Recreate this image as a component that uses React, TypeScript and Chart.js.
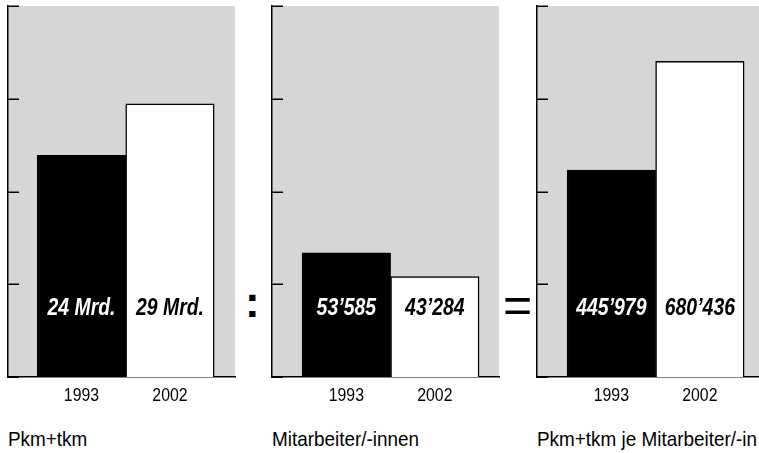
import React, { useEffect, useRef } from 'react';
import { Chart, registerables } from 'chart.js';

Chart.register(...registerables);

// ---- data ----
const years = ['1993', '2002'];
const panelTitles = ['Pkm+tkm', 'Mitarbeiter/-innen', 'Pkm+tkm je Mitarbeiter/-in'];
const pkmTkmValues = [23.9, 29.45]; // Mrd.
const pkmTkmLabels = ['24 Mrd.', '29 Mrd.'];
const staffValues = [53585, 43284];
const staffLabels = ['53’585', '43’284'];
const perStaffValues = [445979, 680436];
const perStaffLabels = ['445’979', '680’436'];
const yMaxes = [40, 160000, 800000];
const yTickSteps = [10, 40000, 200000];
const operators = [':', '='];

const SANS = "'Liberation Sans', Arial, sans-serif";
const GRAY = '#d6d6d6';

const panelValues = [pkmTkmValues, staffValues, perStaffValues];
const panelLabels = [pkmTkmLabels, staffLabels, perStaffLabels];

// layout (positions only)
const panelLayout = [
  { left: 0, width: 245, padL: 8, padR: 10, xMin: -0.83, xMax: 1.735 },
  { left: 262, width: 247, padL: 10, padR: 10, xMin: -0.84, xMax: 1.725 },
  { left: 527, width: 232, padL: 10, padR: 0, xMin: -0.84, xMax: 1.668 },
];

const bgPlugin = {
  id: 'panelBg',
  beforeDraw(chart: any) {
    const { ctx, chartArea } = chart;
    ctx.save();
    ctx.fillStyle = GRAY;
    ctx.fillRect(chartArea.left, chartArea.top, chartArea.right - chartArea.left, chartArea.bottom - chartArea.top);
    ctx.restore();
  },
};

const axisDecor = {
  id: 'axisDecor',
  afterDraw(chart: any) {
    const y = chart.scales.y;
    const x = chart.scales.x;
    const { left, bottom } = chart.chartArea;
    const ctx = chart.ctx;
    ctx.save();
    // inward tick marks on the value axis
    ctx.strokeStyle = '#000';
    ctx.lineWidth = 1.5;
    y.ticks.forEach((t: any) => {
      const py = Math.round(y.getPixelForValue(t.value)) + 0.25;
      ctx.beginPath();
      ctx.moveTo(left, py);
      ctx.lineTo(left + 11, py);
      ctx.stroke();
    });
    // condensed category labels
    ctx.fillStyle = '#000';
    ctx.font = `18px ${SANS}`;
    ctx.textAlign = 'center';
    ctx.textBaseline = 'alphabetic';
    x.ticks.forEach((t: any) => {
      const px = x.getPixelForValue(t.value);
      ctx.save();
      ctx.translate(px, bottom + 24);
      ctx.scale(0.88, 1);
      ctx.fillText(years[t.value], 0, 0);
      ctx.restore();
    });
    ctx.restore();
  },
};

const barText = {
  id: 'barText',
  afterDatasetsDraw(chart: any, _args: any, opts: any) {
    const ctx = chart.ctx;
    const meta = chart.getDatasetMeta(0);
    ctx.save();
    ctx.font = `italic bold 23px ${SANS}`;
    ctx.textAlign = 'center';
    ctx.textBaseline = 'alphabetic';
    meta.data.forEach((el: any, i: number) => {
      ctx.save();
      ctx.translate(el.x, chart.chartArea.bottom - 62);
      ctx.scale(0.845, 1);
      ctx.fillStyle = i === 0 ? '#fff' : '#000';
      ctx.fillText(opts.labels[i], 0, 0);
      ctx.restore();
    });
    ctx.restore();
  },
};

function Panel({ idx }: { idx: number }) {
  const ref = useRef<HTMLCanvasElement>(null);
  useEffect(() => {
    const L = panelLayout[idx];
    const values = panelValues[idx];
    const chart = new Chart(ref.current!, {
      type: 'bar',
      data: {
        datasets: [
          {
            data: values.map((v, i) => ({ x: i, y: v })),
            backgroundColor: ['#000000', '#ffffff'],
            borderColor: '#000000',
            borderWidth: 1.5,
            borderSkipped: 'start',
            barPercentage: 1,
            categoryPercentage: 1,
          },
        ],
      },
      options: {
        responsive: false,
        animation: false,
        layout: { padding: { left: L.padL, right: L.padR, top: 6, bottom: 0 } },
        plugins: {
          legend: { display: false },
          tooltip: { enabled: false },
          barText: { labels: panelLabels[idx] },
        } as any,
        scales: {
          x: {
            type: 'linear',
            min: L.xMin,
            max: L.xMax,
            offset: false,
            bounds: 'data',
            afterBuildTicks: (s: any) => {
              s.ticks = years.map((_, i) => ({ value: i }));
            },
            afterFit: (s: any) => {
              s.height = 33;
            },
            ticks: { display: false },
            grid: { display: false, offset: false },
            border: { display: true, color: '#000', width: 1.5 },
          },
          y: {
            min: 0,
            max: yMaxes[idx],
            ticks: { display: false, stepSize: yTickSteps[idx] },
            afterFit: (s: any) => {
              s.width = 0;
            },
            grid: { display: false },
            border: { display: true, color: '#000', width: 1.5 },
          },
        },
      },
      plugins: [bgPlugin, axisDecor, barText],
    });
    return () => chart.destroy();
  }, [idx]);
  const L = panelLayout[idx];
  return (
    <canvas
      ref={ref}
      width={L.width}
      height={410}
      style={{ position: 'absolute', left: L.left, top: 0, width: L.width, height: 410 }}
    />
  );
}

export default function App() {
  const captionLefts = [8, 272, 537];
  return (
    <div style={{ position: 'absolute', left: 0, top: 0, width: 759, height: 453, background: '#fff', overflow: 'hidden' }}>
      {[0, 1, 2].map((i) => (
        <Panel key={i} idx={i} />
      ))}
      <div
        style={{
          position: 'absolute', left: 245, top: 280, fontFamily: SANS,
          fontWeight: 'bold', fontSize: 44, lineHeight: '44px', color: '#000',
        }}
      >
        {operators[0]}
      </div>
      <div
        style={{
          position: 'absolute', left: 503, top: 280, fontFamily: SANS,
          fontSize: 50, lineHeight: '50px', color: '#000',
        }}
      >
        {operators[1]}
      </div>
      {panelTitles.map((t, i) => (
        <div
          key={t}
          style={{
            position: 'absolute', left: captionLefts[i], top: 428, fontFamily: SANS,
            fontSize: 21, lineHeight: '21px', color: '#000', whiteSpace: 'nowrap',
            transform: 'scaleX(0.9)', transformOrigin: 'left top',
          }}
        >
          {t}
        </div>
      ))}
    </div>
  );
}
